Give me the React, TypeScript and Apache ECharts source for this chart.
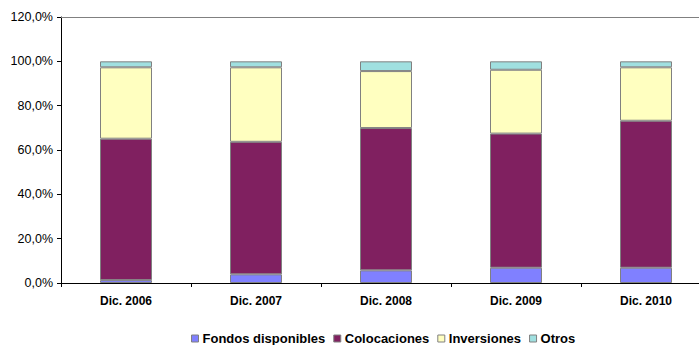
import React, { useEffect, useRef } from "react";
import * as echarts from "echarts";

const categories = ["Dic. 2006", "Dic. 2007", "Dic. 2008", "Dic. 2009", "Dic. 2010"];
const fondos = [1.3, 3.9, 5.7, 6.9, 6.9];
const colocaciones = [63.8, 59.8, 64.2, 60.5, 66.3];
const inversiones = [32.2, 33.6, 25.7, 28.8, 24.1];
const otros = [2.7, 2.7, 4.4, 3.8, 2.7];

const seriesNames = ["Fondos disponibles", "Colocaciones", "Inversiones", "Otros"];
const seriesColors = ["#8080FF", "#802060", "#FFFFC0", "#A0E0E0"];

export default function App() {
  const ref = useRef<HTMLDivElement>(null);
  useEffect(() => {
    if (!ref.current) return;
    const chart = echarts.init(ref.current, null, { renderer: "svg" });
    const datasets = [fondos, colocaciones, inversiones, otros];
    chart.setOption({
      animation: false,
      textStyle: { fontFamily: "Liberation Sans, Arial, sans-serif" },
      grid: { left: 61, top: 17, height: 266, width: 650, containLabel: false, outerBoundsMode: "none" },
      legend: {
        data: seriesNames,
        top: 327,
        left: 186,
        itemWidth: 7,
        itemHeight: 7,
        itemGap: 8,
        icon: "rect",
        textStyle: { fontSize: 13, fontWeight: "bold", color: "#000", padding: [0, 0, 0, -1] },
        itemStyle: { borderColor: "#808080", borderWidth: 1 },
      },
      xAxis: [
        {
          type: "category",
          data: categories,
          axisLine: { lineStyle: { color: "#000", width: 1 } },
          axisTick: { show: true, length: 4, lineStyle: { color: "#000" } },
          axisLabel: { fontSize: 12, fontWeight: "bold", color: "#000", margin: 12 },
        },
        {
          type: "category",
          position: "top",
          data: categories,
          axisLine: { show: true, lineStyle: { color: "#808080", width: 1 } },
          axisTick: { show: false },
          axisLabel: { show: false },
        },
      ],
      yAxis: {
        type: "value",
        min: 0,
        max: 120,
        interval: 20,
        axisLine: { show: true, lineStyle: { color: "#000" } },
        axisTick: { show: true, length: 4, lineStyle: { color: "#000" } },
        splitLine: { show: false },
        axisLabel: {
          fontSize: 12.5,
          color: "#000",
          margin: 8,
          formatter: (v: number) => v.toFixed(1).replace(".", ",") + "%",
        },
      },
      series: datasets.map((d, i) => ({
        name: seriesNames[i],
        type: "bar",
        stack: "total",
        data: d,
        barWidth: 52,
        itemStyle: { color: seriesColors[i], borderColor: "#808080", borderWidth: 1 },
      })),
    });
    return () => chart.dispose();
  }, []);
  return <div ref={ref} style={{ width: 699, height: 345, position: "absolute", left: 0, top: 0 }} />;
}
